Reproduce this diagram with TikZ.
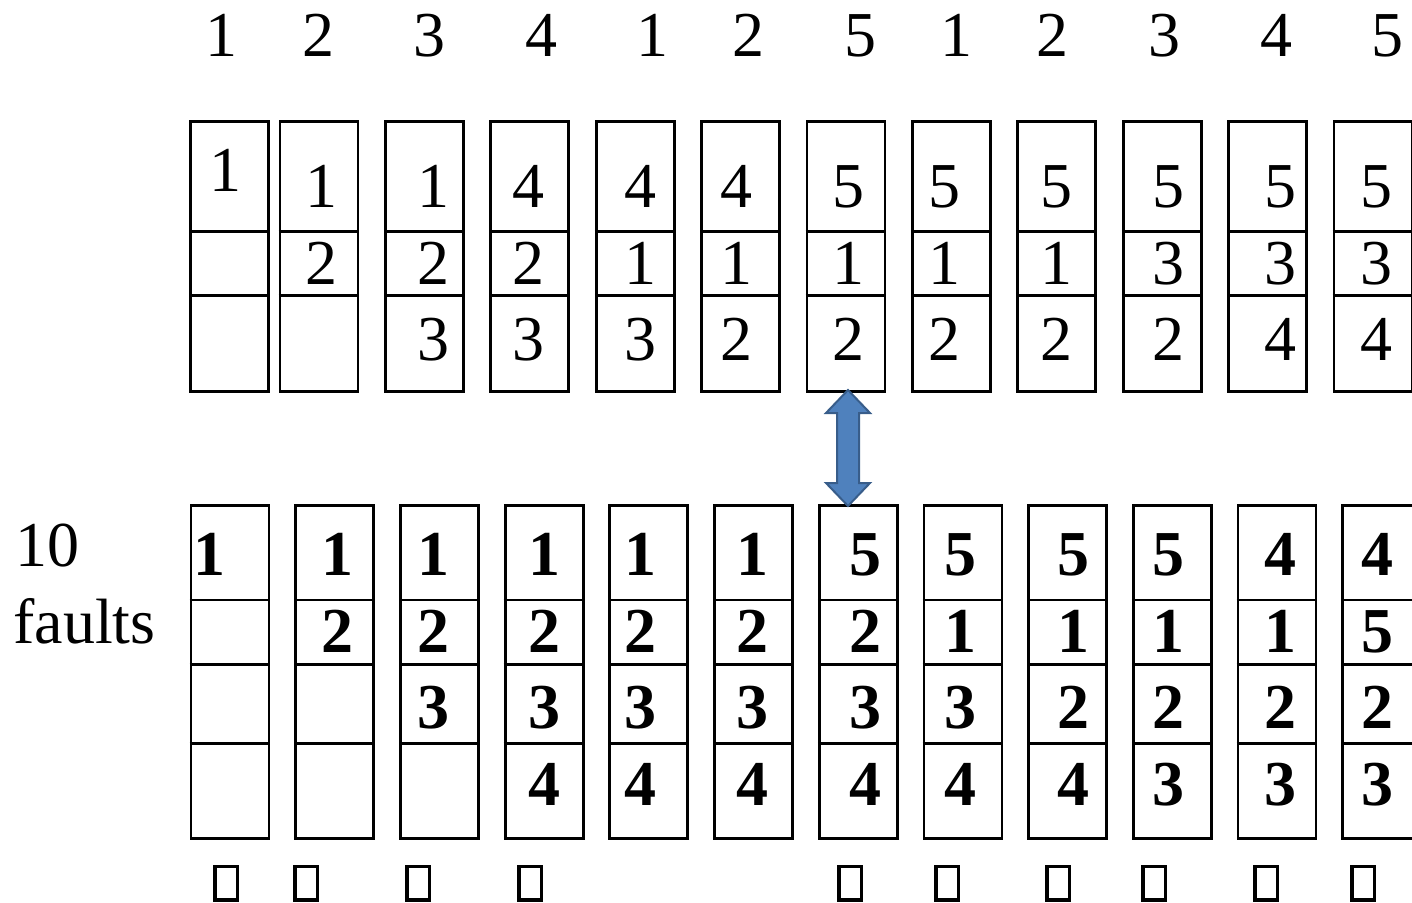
\documentclass[tikz,border=0pt]{standalone}
\usepackage{fontspec}
\setmainfont{Liberation Serif}
\usetikzlibrary{calc}
\definecolor{ArrowFill}{HTML}{4F81BD}
\definecolor{ArrowLine}{HTML}{385D8A}

\begin{document}
\begin{tikzpicture}[
  x=0.5pt, y=-0.5pt,
  frame/.style={draw,line width=1.4pt,minimum width=39pt,inner sep=0pt},
  topcol/.style={frame,minimum height=135pt},
  botcol/.style={frame,minimum height=166.5pt},
  digit/.style={anchor=base,inner sep=0pt,font=\fontsize{32}{38}\selectfont},
  bolddigit/.style={digit,font=\fontsize{32}{38}\selectfont\bfseries},
  tofu/.style={draw,line width=1.75pt,minimum width=11.25pt,minimum height=16.75pt,inner sep=0pt},
  blockarrow/.style={fill=ArrowFill,draw=ArrowLine,line width=1pt,line join=miter}
]
  \useasboundingbox (0,0) rectangle (1412,903);
  \clip (0,0) rectangle (1412,903);

  % reference string
  \foreach \x/\v [count=\c] in {221.7/1,318.3/2,429/3,541/4,652/1,748/2,860/5,956/1,1052/2,1164/3,1276/4,1387/5}
    \node[digit] (ref\c) at (\x,56.7) {\v};

  % upper frames
  \foreach \x [count=\c] in {229.7,319,424.4,529.8,635.2,740.6,846,951.4,1056.8,1162.2,1267.6,1373}{
    \node[topcol] (t\c) at (\x,256.3) {};
    \foreach \y in {231.7,295.3}
      \draw[line width=1.4pt] (t\c.west |- 0,\y) -- (t\c.east |- 0,\y);
  }
  \node[digit] (t1a) at (225,191.7) {1};
  \foreach \x/\v [count=\c] in {321/1,433/1,528/4,640/4,736/4,848/5,944/5,1056/5,1168/5,1280/5,1376/5}
    \node[digit] (ta\c) at (\x,208) {\v};
  \foreach \x/\v [count=\c] in {321/2,433/2,528/2,640/1,736/1,848/1,944/1,1056/1,1168/3,1280/3,1376/3}
    \node[digit] (tb\c) at (\x,285) {\v};
  \foreach \x/\v [count=\c] in {433/3,528/3,640/3,736/2,848/2,944/2,1056/2,1168/2,1280/4,1376/4}
    \node[digit] (tc\c) at (\x,360) {\v};

  % lower frames
  \foreach \x [count=\c] in {230,334.7,439.4,544.1,648.8,753.5,858.2,962.9,1067.6,1172.3,1277,1381.7}{
    \node[botcol] (b\c) at (\x,672) {};
    \foreach \y in {600,664.3,743.7}
      \draw[line width=1.4pt] (b\c.west |- 0,\y) -- (b\c.east |- 0,\y);
  }
  \foreach \x/\v [count=\c] in {209/1,337/1,433/1,544/1,640/1,752/1,865/5,960/5,1073/5,1168/5,1280/4,1377/4}
    \node[bolddigit] (ba\c) at (\x,575) {\v};
  \foreach \x/\v [count=\c] in {337/2,433/2,544/2,640/2,752/2,865/2,960/1,1073/1,1168/1,1280/1,1377/5}
    \node[bolddigit] (bb\c) at (\x,652) {\v};
  \foreach \x/\v [count=\c] in {433/3,544/3,640/3,752/3,865/3,960/3,1073/2,1168/2,1280/2,1377/2}
    \node[bolddigit] (bc\c) at (\x,728) {\v};
  \foreach \x/\v [count=\c] in {544/4,640/4,752/4,865/4,960/4,1073/4,1168/3,1280/3,1377/3}
    \node[bolddigit] (bd\c) at (\x,805) {\v};

  \node[digit,anchor=base west] (ten) at (15,566.7) {10};
  \node[digit,anchor=base west] (faults) at (13,643) {faults};

  % double arrow between the frames
  \coordinate (tiptop) at (848,390);
  \coordinate (tipbot) at (848,506);
  \draw[blockarrow] (tiptop) -- ++(22,23) -- ++(-11,0) -- ++(0,70) -- ++(11,0) -- (tipbot)
    -- ++(-22,-23) -- ++(11,0) -- ++(0,-70) -- ++(-11,0) -- cycle;

  % fault marks
  \foreach \x [count=\c] in {226,306,418,530,850,947,1058,1154,1266,1363}
    \node[tofu] (f\c) at (\x,883) {};
\end{tikzpicture}
\end{document}
